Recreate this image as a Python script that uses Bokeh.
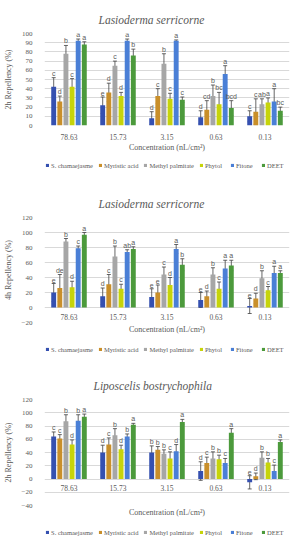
from bokeh.plotting import figure
from bokeh.layouts import column
from bokeh.models import (FactorRange, Range1d, ColumnDataSource, Whisker, TeeHead,
                          Legend, LegendItem, Title, FixedTicker)
from bokeh.transform import dodge
from bokeh.core.properties import value
from bokeh.embed import file_html
from bokeh.resources import INLINE

CONCS = ["78.63", "15.73", "3.15", "0.63", "0.13"]
SERIES = ["S. chamaejasme", "Myristic acid", "Methyl palmitate", "Phytol", "Fitone", "DEET"]
COLORS = ["#3550b0", "#c98f2a", "#a6a6a6", "#c6d40a", "#4a7fd6", "#4c9a3c"]

# Panel 1: Lasioderma serricorne, 2h
LS2H_MEAN = [
    [42, 22, 8, 9, 10],
    [26, 36, 32, 17, 15],
    [78, 65, 67, 32, 23],
    [42, 32, 29, 23, 25],
    [92, 92, 92, 56, 26],
    [88, 76, 28, 19, 16],
]
LS2H_ERR = [
    [10, 9, 7, 7, 6],
    [6, 10, 8, 10, 14],
    [9, 5, 11, 12, 6],
    [9, 4, 6, 13, 5],
    [2, 2, 1, 9, 14],
    [3, 7, 3, 8, 4],
]
LS2H_LET = [
    ["c", "e", "d", "d", "c"],
    ["d", "d", "c", "cd", "c"],
    ["b", "c", "b", "b", "ab"],
    ["c", "d", "c", "bc", "a"],
    ["a", "a", "a", "a", "a"],
    ["a", "b", "c", "bcd", "bc"],
]

# Panel 2: Lasioderma serricorne, 4h
LS4H_MEAN = [
    [20, 15, 14, 10, 2],
    [26, 31, 20, 15, 12],
    [88, 68, 44, 44, 39],
    [27, 25, 30, 25, 23],
    [79, 74, 78, 52, 46],
    [97, 78, 57, 56, 46],
]
LS4H_ERR = [
    [12, 11, 11, 10, 10],
    [18, 13, 10, 7, 7],
    [4, 14, 10, 9, 10],
    [8, 6, 10, 9, 5],
    [3, 3, 6, 11, 9],
    [3, 3, 8, 7, 3],
]
LS4H_LET = [
    ["e", "d", "e", "e", "e"],
    ["de", "c", "e", "d", "d"],
    ["b", "b", "c", "b", "b"],
    ["d", "c", "d", "c", "c"],
    ["c", "ab", "a", "a", "a"],
    ["a", "a", "b", "a", "a"],
]

# Panel 3: Liposcelis bostrychophila, 2h
LB2H_MEAN = [
    [64, 40, 40, 12, -5],
    [61, 52, 44, 24, 4],
    [87, 66, 38, 31, 32],
    [52, 45, 31, 30, 25],
    [88, 64, 42, 24, 12],
    [94, 82, 86, 70, 56],
]
LB2H_ERR = [
    [7, 11, 10, 14, 10],
    [6, 10, 5, 9, 5],
    [10, 10, 6, 10, 9],
    [7, 6, 10, 6, 6],
    [9, 4, 10, 7, 9],
    [4, 2, 4, 6, 3],
]
LB2H_LET = [
    ["c", "d", "b", "d", "e"],
    ["c", "c", "b", "c", "d"],
    ["b", "b", "b", "b", "b"],
    ["d", "d", "c", "b", "b"],
    ["b", "b", "d", "c", "c"],
    ["a", "a", "a", "a", "a"],
]

GRAY = "#595959"
SERIF = "Liberation Serif"
FW = 245
TOTAL_W = 43 + FW + 8


def make_panel(title, title_offset, ylabel, ymin, ymax, ticks, means, errs, lets,
               fh, top, bottom, inner_labels):
    p = figure(frame_width=FW, frame_height=fh, x_range=FactorRange(*CONCS),
               y_range=Range1d(ymin, ymax), output_backend="svg",
               toolbar_location=None, min_border_left=43, min_border_right=8,
               min_border_top=top, min_border_bottom=bottom)
    p.outline_line_color = None
    p.title.text = title
    p.title.text_font = SERIF
    p.title.text_font_style = "italic"
    p.title.text_font_size = "11.5px"
    p.title.text_color = GRAY
    p.title.align = "left"
    p.title.offset = title_offset
    p.title.standoff = 15

    p.xgrid.grid_line_color = None
    p.ygrid.grid_line_color = "#d9d9d9"
    p.yaxis.ticker = FixedTicker(ticks=ticks)
    p.yaxis.axis_line_color = None
    p.yaxis.major_tick_line_color = None
    p.yaxis.minor_tick_line_color = None
    p.yaxis.major_label_text_font = SERIF
    p.yaxis.major_label_text_font_size = "7px"
    p.yaxis.major_label_text_color = GRAY
    p.yaxis.major_label_standoff = 6
    p.yaxis.axis_label = ylabel
    p.yaxis.axis_label_text_font = SERIF
    p.yaxis.axis_label_text_font_style = "normal"
    p.yaxis.axis_label_text_font_size = "8px"
    p.yaxis.axis_label_text_color = GRAY
    p.yaxis.axis_label_standoff = 6

    for i, name in enumerate(SERIES):
        off = (i - 2.5) * 0.125
        src = ColumnDataSource(dict(
            conc=CONCS, val=means[i],
            upper=[m + e for m, e in zip(means[i], errs[i])],
            lower=[m - e for m, e in zip(means[i], errs[i])],
            let=lets[i]))
        xs = dodge("conc", off, range=p.x_range)
        p.vbar(x=xs, top="val", bottom=0, width=0.1, source=src,
               fill_color=COLORS[i], line_color=None)
        w = Whisker(source=src, base=xs, upper="upper", lower="lower",
                    line_color="#404040", line_width=0.8,
                    upper_head=TeeHead(size=4, line_color="#404040", line_width=0.8),
                    lower_head=TeeHead(size=4, line_color="#404040", line_width=0.8))
        p.add_layout(w)
        p.text(x=xs, y="upper", text="let", source=src, text_align="center",
               text_baseline="bottom", y_offset=-1,
               text_font=value("Liberation Sans"), text_font_size="7px",
               text_color=GRAY)

    if inner_labels:
        p.xaxis.visible = False
        lsrc = ColumnDataSource(dict(conc=CONCS, y=[0] * len(CONCS)))
        p.text(x="conc", y="y", text="conc", source=lsrc, text_align="center",
               text_baseline="middle", y_offset=9, text_font=value(SERIF),
               text_font_size="7.5px", text_color=GRAY)
        p.add_layout(Title(text="Concentration (nL/cm\u00b2)", align="center",
                           text_font=SERIF, text_font_style="normal",
                           text_font_size="8px", text_color=GRAY,
                           standoff=1), "below")
    else:
        p.xaxis.axis_line_color = None
        p.xaxis.major_tick_line_color = None
        p.xaxis.minor_tick_line_color = None
        p.xaxis.major_label_text_font = SERIF
        p.xaxis.major_label_text_font_size = "7.5px"
        p.xaxis.major_label_text_color = GRAY
        p.xaxis.major_label_standoff = 2
        p.xaxis.axis_label = "Concentration (nL/cm\u00b2)"
        p.xaxis.axis_label_text_font = SERIF
        p.xaxis.axis_label_text_font_style = "normal"
        p.xaxis.axis_label_text_font_size = "8px"
        p.xaxis.axis_label_text_color = GRAY
        p.xaxis.axis_label_standoff = 0
    return p


def make_legend(means):
    # Legend strip: series renderers are hidden; only the legend shows.
    lf = figure(width=TOTAL_W, height=12, min_border_left=0, min_border_right=0,
                min_border_top=0, min_border_bottom=0,
                x_range=FactorRange(*CONCS), y_range=Range1d(0, 1),
                x_axis_location=None, y_axis_location=None,
                output_backend="svg", toolbar_location=None, title=None)
    lf.grid.visible = False
    lf.outline_line_color = None
    items = []
    for i, c in enumerate(COLORS):
        src = ColumnDataSource(dict(conc=CONCS, val=means[i]))
        r = lf.vbar(x="conc", top="val", bottom=0, width=0.1, source=src,
                    fill_color=c, line_color=None, visible=False)
        items.append(LegendItem(label=SERIES[i], renderers=[r]))
    leg = Legend(items=items, orientation="horizontal", location="center",
                 label_text_font=SERIF, label_text_font_size="6.5px",
                 label_text_color=GRAY, glyph_width=4, glyph_height=4,
                 label_standoff=2, label_height=8, spacing=5, padding=1,
                 margin=0, border_line_color=None, background_fill_alpha=0,
                 inactive_fill_alpha=0)
    lf.add_layout(leg)
    return lf


p1 = make_panel("Lasioderma serricorne", 54, "2h Repellency (%)", 0, 100,
                list(range(0, 101, 10)), LS2H_MEAN, LS2H_ERR, LS2H_LET,
                92, 33, 34, False)
p2 = make_panel("Lasioderma serricorne", 54, "4h Repellency (%)", -20, 120,
                list(range(-20, 121, 20)), LS4H_MEAN, LS4H_ERR, LS4H_LET,
                105, 46, 21, True)
p3 = make_panel("Liposcelis bostrychophila", 49, "2h Repellency (%)", -40, 120,
                list(range(-40, 121, 20)), LB2H_MEAN, LB2H_ERR, LB2H_LET,
                106, 44, 21, True)

layout = column(p1, make_legend(LS2H_MEAN), p2, make_legend(LS4H_MEAN),
                p3, make_legend(LB2H_MEAN), spacing=0)
open("out.html", "w").write(file_html(layout, INLINE))
